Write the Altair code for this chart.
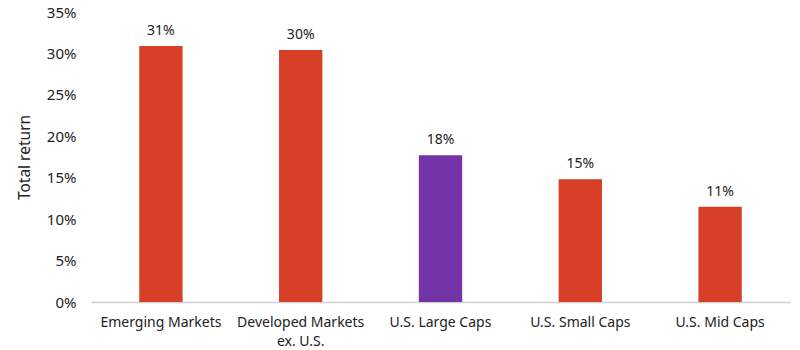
import altair as alt
import pandas as pd

categories = ["Emerging Markets", "Developed Markets\nex. U.S.", "U.S. Large Caps", "U.S. Small Caps", "U.S. Mid Caps"]
values = [0.309, 0.304, 0.177, 0.148, 0.115]
labels = ["31%", "30%", "18%", "15%", "11%"]
colors = ["#D63F26", "#D63F26", "#7433A6", "#D63F26", "#D63F26"]

df = pd.DataFrame({"cat": categories, "val": values, "lab": labels, "color": colors})

FONT = "Noto Sans"

x = alt.X("cat:N", sort=categories, title=None,
          scale=alt.Scale(paddingInner=0.69, paddingOuter=0.345),
          axis=alt.Axis(labelAngle=0, labelExpr="split(datum.label, '\\n')",
                        labelFontSize=14, labelColor="#222222", labelFont=FONT,
                        labelPadding=13, ticks=False, domainColor="#d0d0d0",
                        domainWidth=1.5, labelLineHeight=19))
y = alt.Y("val:Q", title="Total return",
          scale=alt.Scale(domain=[0, 0.35], nice=False),
          axis=alt.Axis(format=".0%", values=[0, 0.05, 0.1, 0.15, 0.2, 0.25, 0.3, 0.35],
                        grid=False, domain=False, ticks=False, labelPadding=15,
                        labelFontSize=15, labelColor="#222222", labelFont=FONT,
                        titleFontSize=15.5, titleFontWeight="normal", titleColor="#222222",
                        titleFont=FONT, titlePadding=14))

bars = alt.Chart(df).mark_bar().encode(
    x=x, y=y, color=alt.Color("color:N", scale=None)
)
text = alt.Chart(df).mark_text(dy=-15, fontSize=14, font=FONT, color="#222222").encode(
    x=alt.X("cat:N", sort=categories), y="val:Q", text="lab:N"
)

chart = (bars + text).properties(
    width=699, height=290,
    autosize=alt.AutoSizeParams(type="none"),
    padding={"left": 91, "top": 12, "right": 10, "bottom": 48},
).configure_view(stroke=None)

chart.save("out.html", embed_options={"renderer": "svg", "actions": False})
